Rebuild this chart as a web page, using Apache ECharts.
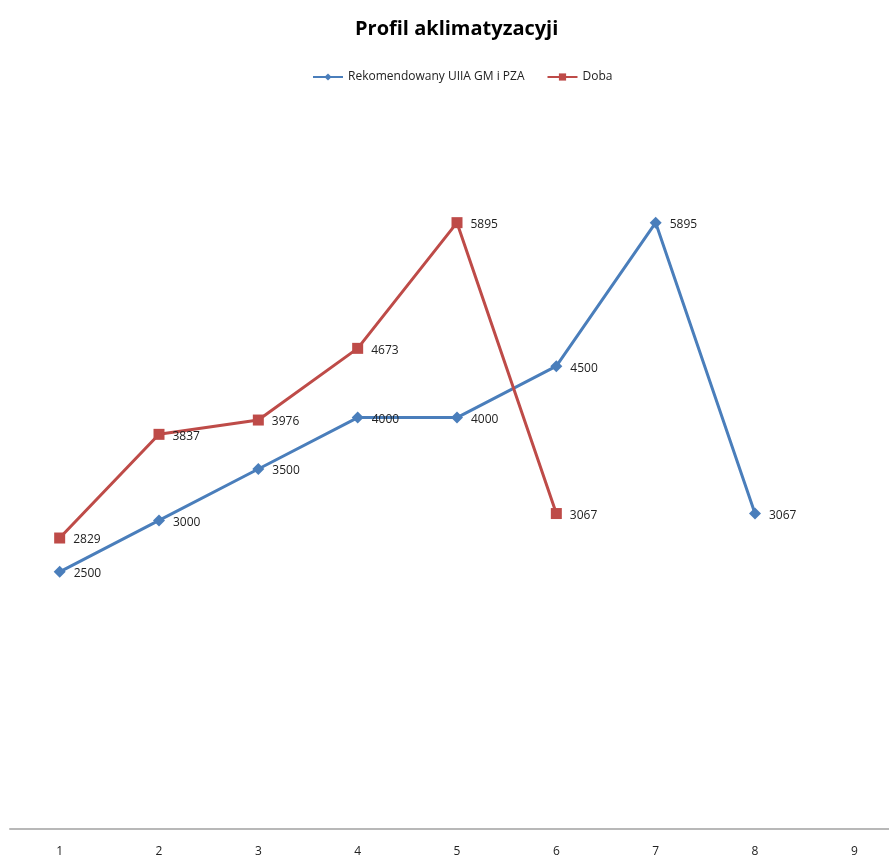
<!DOCTYPE html>
<html>
<head>
<meta charset="utf-8">
<script src="https://cdn.jsdelivr.net/npm/echarts@6/dist/echarts.min.js"></script>
<style>html,body{margin:0;padding:0;background:#fff}#c{width:889px;height:857px}</style>
</head>
<body>
<div id="c"></div>
<script>
const categories = ['1','2','3','4','5','6','7','8','9'];
const seriesNames = ['Rekomendowany UIIA GM i PZA', 'Doba'];
const recommended = [2500, 3000, 3500, 4000, 4000, 4500, 5895, 3067, null];
const doba = [2829, 3837, 3976, 4673, 5895, 3067, null, null, null];

const FONT = '"Liberation Sans Narrow", "Open Sans", sans-serif';
const chart = echarts.init(document.getElementById('c'));
chart.setOption({
  animation: false,
  backgroundColor: '#fff',
  title: {
    text: 'Profil aklimatyzacyji',
    left: 350, top: 14,
    textStyle: { fontFamily: FONT, fontSize: 20, fontWeight: 'bold', color: '#000' }
  },
  legend: {
    top: 66, left: 307,
    itemWidth: 30, itemHeight: 9, itemGap: 22,
    textStyle: { fontFamily: FONT, fontSize: 12, color: '#222' },
    data: seriesNames
  },
  grid: { left: 10, right: -15, top: 109, bottom: 28, outerBoundsMode: 'none' },
  xAxis: {
    type: 'category',
    data: categories,
    boundaryGap: true,
    axisLine: { lineStyle: { color: '#b8b8b8', width: 2 } },
    axisTick: { show: false },
    axisLabel: { fontFamily: FONT, fontSize: 12, color: '#222', margin: 17 }
  },
  yAxis: {
    type: 'value', min: 0, max: 7000,
    show: false,
    splitLine: { show: false }
  },
  series: [
    {
      name: seriesNames[0], type: 'line', data: recommended,
      symbol: 'diamond', symbolSize: 12,
      color: '#4A7EBB',
      lineStyle: { width: 3, color: '#4A7EBB' },
      itemStyle: { color: '#4A7EBB' },
      label: { show: true, position: 'right', distance: 8, offset: [0, 2], fontFamily: FONT, fontSize: 12, color: '#222' }
    },
    {
      name: seriesNames[1], type: 'line', data: doba,
      symbol: 'rect', symbolSize: 11,
      color: '#BE4B48',
      lineStyle: { width: 3, color: '#BE4B48' },
      itemStyle: { color: '#BE4B48' },
      label: { show: true, position: 'right', distance: 8, offset: [0, 2], fontFamily: FONT, fontSize: 12, color: '#222' }
    }
  ]
});
</script>
</body>
</html>
